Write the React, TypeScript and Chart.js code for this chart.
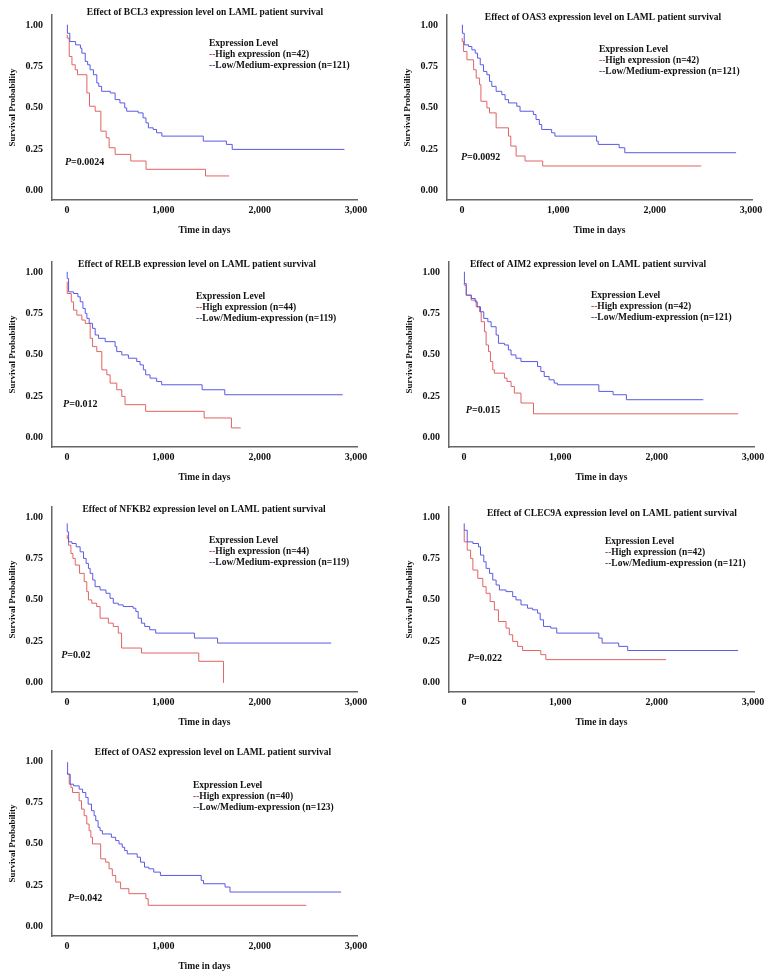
import React, { useEffect, useRef } from "react";
import { Chart, registerables } from "chart.js";

Chart.register(...registerables);

// ---------- data ----------
const genes = ["BCL3", "OAS3", "RELB", "AIM2", "NFKB2", "CLEC9A", "OAS2"];
const highN = [42, 42, 44, 42, 44, 42, 40];
const lowN = [121, 121, 119, 121, 119, 121, 123];
const pValues = ["0.0024", "0.0092", "0.012", "0.015", "0.02", "0.022", "0.042"];
const xTicks = [0, 1000, 2000, 3000];
const yTicks = [0, 0.25, 0.5, 0.75, 1];

const bcl3HighDays = [0, 3, 24, 52, 86, 110, 207, 234, 293, 352, 407, 438, 500, 662, 821, 1438, 1683];
const bcl3HighSurv = [0.94, 0.92, 0.81, 0.76, 0.73, 0.7, 0.59, 0.51, 0.48, 0.36, 0.32, 0.26, 0.22, 0.18, 0.13, 0.09, 0.09];
const bcl3LowDays = [0, 5, 30, 90, 140, 155, 190, 215, 240, 275, 310, 330, 360, 450, 500, 550, 600, 620, 740, 790, 820, 845, 895, 930, 985, 1415, 1655, 1715, 2880];
const bcl3LowSurv = [1, 0.95, 0.9, 0.88, 0.86, 0.83, 0.78, 0.76, 0.73, 0.7, 0.65, 0.63, 0.6, 0.59, 0.55, 0.53, 0.5, 0.48, 0.47, 0.44, 0.41, 0.38, 0.37, 0.35, 0.33, 0.3, 0.28, 0.25, 0.25];

const oas3HighDays = [0, 3, 17, 52, 121, 148, 183, 197, 259, 286, 355, 483, 507, 562, 655, 838, 2483];
const oas3HighSurv = [0.92, 0.9, 0.84, 0.79, 0.73, 0.68, 0.64, 0.54, 0.5, 0.47, 0.38, 0.33, 0.27, 0.21, 0.18, 0.15, 0.15];
const oas3LowDays = [0, 5, 24, 69, 103, 138, 162, 190, 224, 259, 286, 310, 355, 414, 448, 483, 569, 603, 741, 769, 803, 828, 931, 965, 1397, 1414, 1631, 1690, 2845];
const oas3LowSurv = [1, 0.95, 0.88, 0.87, 0.85, 0.83, 0.8, 0.76, 0.72, 0.7, 0.66, 0.63, 0.6, 0.58, 0.55, 0.53, 0.51, 0.48, 0.46, 0.43, 0.4, 0.37, 0.35, 0.33, 0.3, 0.28, 0.26, 0.23, 0.23];

const relbHighDays = [0, 3, 45, 69, 103, 155, 190, 241, 266, 310, 362, 414, 448, 517, 569, 603, 817, 1424, 1707, 1803];
const relbHighSurv = [0.94, 0.87, 0.82, 0.77, 0.74, 0.71, 0.69, 0.6, 0.55, 0.52, 0.41, 0.38, 0.33, 0.29, 0.25, 0.2, 0.16, 0.12, 0.06, 0.06];
const relbLowDays = [0, 3, 17, 69, 114, 138, 166, 190, 207, 231, 266, 293, 328, 397, 500, 517, 569, 638, 724, 759, 793, 817, 862, 931, 983, 1403, 1638, 2862];
const relbLowSurv = [1, 0.96, 0.88, 0.87, 0.85, 0.82, 0.78, 0.75, 0.72, 0.69, 0.66, 0.62, 0.6, 0.58, 0.55, 0.52, 0.5, 0.48, 0.46, 0.44, 0.41, 0.38, 0.36, 0.34, 0.32, 0.29, 0.26, 0.26];

const aim2HighDays = [0, 3, 24, 76, 127, 162, 179, 213, 230, 255, 275, 299, 316, 420, 447, 489, 523, 592, 722, 2845];
const aim2HighSurv = [0.93, 0.92, 0.86, 0.83, 0.79, 0.76, 0.7, 0.64, 0.56, 0.52, 0.46, 0.41, 0.39, 0.36, 0.34, 0.31, 0.27, 0.21, 0.145, 0.145];
const aim2LowDays = [0, 5, 24, 76, 117, 138, 172, 206, 248, 282, 334, 358, 420, 461, 489, 540, 592, 764, 798, 833, 884, 936, 970, 1400, 1548, 1686, 2484];
const aim2LowSurv = [1, 0.93, 0.86, 0.84, 0.82, 0.79, 0.76, 0.72, 0.7, 0.67, 0.62, 0.57, 0.56, 0.53, 0.5, 0.48, 0.46, 0.43, 0.4, 0.37, 0.35, 0.33, 0.32, 0.28, 0.26, 0.23, 0.23];

const nfkb2HighDays = [0, 3, 17, 41, 62, 86, 131, 179, 206, 223, 258, 309, 344, 430, 481, 533, 567, 773, 1368, 1625];
const nfkb2HighSurv = [0.89, 0.87, 0.83, 0.78, 0.75, 0.71, 0.66, 0.61, 0.55, 0.5, 0.48, 0.46, 0.39, 0.36, 0.34, 0.3, 0.21, 0.18, 0.13, 0.0];
const nfkb2LowDays = [0, 3, 17, 52, 96, 137, 172, 199, 223, 241, 268, 292, 344, 405, 447, 481, 533, 584, 687, 715, 739, 773, 807, 859, 921, 1323, 1563, 2742];
const nfkb2LowSurv = [0.96, 0.91, 0.85, 0.84, 0.82, 0.79, 0.75, 0.72, 0.69, 0.66, 0.62, 0.58, 0.56, 0.54, 0.51, 0.48, 0.47, 0.46, 0.45, 0.43, 0.39, 0.36, 0.34, 0.32, 0.3, 0.27, 0.24, 0.24];

const clec9aHighDays = [0, 3, 34, 69, 93, 144, 196, 230, 272, 316, 358, 437, 471, 506, 557, 609, 798, 850, 2098];
const clec9aHighSurv = [0.92, 0.85, 0.8, 0.75, 0.68, 0.63, 0.58, 0.54, 0.49, 0.44, 0.37, 0.33, 0.29, 0.25, 0.22, 0.195, 0.17, 0.14, 0.14];
const clec9aLowDays = [0, 3, 34, 93, 151, 172, 206, 230, 265, 299, 334, 368, 437, 506, 540, 592, 660, 712, 764, 791, 826, 901, 963, 1400, 1434, 1606, 1699, 2845];
const clec9aLowSurv = [0.96, 0.92, 0.85, 0.84, 0.82, 0.77, 0.73, 0.69, 0.66, 0.62, 0.59, 0.56, 0.55, 0.52, 0.5, 0.47, 0.45, 0.44, 0.42, 0.38, 0.34, 0.33, 0.3, 0.27, 0.24, 0.22, 0.195, 0.195];

const oas2HighDays = [0, 7, 24, 41, 58, 127, 151, 179, 206, 230, 248, 265, 350, 402, 437, 471, 506, 557, 643, 819, 843, 2484];
const oas2HighSurv = [0.93, 0.92, 0.86, 0.84, 0.81, 0.76, 0.71, 0.67, 0.62, 0.58, 0.54, 0.5, 0.41, 0.39, 0.35, 0.31, 0.27, 0.23, 0.2, 0.17, 0.13, 0.13];
const oas2LowDays = [0, 7, 34, 69, 127, 162, 196, 220, 255, 282, 299, 323, 344, 368, 461, 506, 540, 574, 599, 626, 729, 764, 805, 850, 901, 970, 1393, 1417, 1641, 1692, 2845];
const oas2LowSurv = [0.99, 0.92, 0.86, 0.85, 0.83, 0.81, 0.78, 0.74, 0.7, 0.67, 0.64, 0.6, 0.58, 0.56, 0.54, 0.52, 0.5, 0.48, 0.46, 0.44, 0.42, 0.39, 0.36, 0.35, 0.33, 0.31, 0.28, 0.26, 0.24, 0.21, 0.21];

const highDays = [bcl3HighDays, oas3HighDays, relbHighDays, aim2HighDays, nfkb2HighDays, clec9aHighDays, oas2HighDays];
const highSurv = [bcl3HighSurv, oas3HighSurv, relbHighSurv, aim2HighSurv, nfkb2HighSurv, clec9aHighSurv, oas2HighSurv];
const lowDays = [bcl3LowDays, oas3LowDays, relbLowDays, aim2LowDays, nfkb2LowDays, clec9aLowDays, oas2LowDays];
const lowSurv = [bcl3LowSurv, oas3LowSurv, relbLowSurv, aim2LowSurv, nfkb2LowSurv, clec9aLowSurv, oas2LowSurv];

// ---------- layout (positions / styles) ----------
const panelLeft = [0, 395, 0, 397, 0, 397, 0];
const panelTop = [0, 0, 247, 247, 492, 492, 736];
const titleDx = [153, 156, 145, 139, 152, 163, 161];
const titleDy = [-2, 3, 3, 3, 3, 7, 2];
const legendDx = [157, 152, 144, 142, 157, 156, 141];
const legendDy = [29, 35, 35, 34, 34, 35, 35];
const pPosDay = [-20, -10, -40, 20, -60, 40, 10];
const pPosSurv = [0.17, 0.2, 0.2, 0.165, 0.165, 0.147, 0.17];

const RED = "#e06464";
const BLUE = "#5a5ae6";
const SERIF = '"Liberation Serif", "Times New Roman", serif';
const CANVAS_W = 375;
const CANVAS_H = 245;

function KMPanel({ idx }: { idx: number }) {
  const ref = useRef<HTMLCanvasElement | null>(null);

  useEffect(() => {
    if (!ref.current) return;
    const toPts = (d: number[], s: number[]) => d.map((x, i) => ({ x, y: s[i] }));

    const textPlugin = {
      id: "kmText" + idx,
      afterDraw(chart: any) {
        const { ctx, chartArea: a, scales } = chart;
        ctx.save();
        ctx.textBaseline = "middle";
        ctx.fillStyle = "#111";
        ctx.font = `bold 9.5px ${SERIF}`;
        ctx.textAlign = "center";
        ctx.fillText(
          `Effect of ${genes[idx]} expression level on LAML patient survival`,
          a.left + titleDx[idx],
          a.top + titleDy[idx]
        );
        ctx.textAlign = "left";
        const lx = a.left + legendDx[idx];
        const ly = a.top + legendDy[idx];
        ctx.fillText("Expression Level", lx, ly);
        const dashW = ctx.measureText("--").width;
        ctx.fillStyle = "#a04848";
        ctx.fillText("--", lx, ly + 11);
        ctx.fillStyle = "#111";
        ctx.fillText(`High expression (n=${highN[idx]})`, lx + dashW, ly + 11);
        ctx.fillStyle = "#48487a";
        ctx.fillText("--", lx, ly + 22);
        ctx.fillStyle = "#111";
        ctx.fillText(`Low/Medium-expression (n=${lowN[idx]})`, lx + dashW, ly + 22);

        const px = scales.x.getPixelForValue(pPosDay[idx]);
        const py = scales.y.getPixelForValue(pPosSurv[idx]);
        ctx.font = `italic bold 10px ${SERIF}`;
        ctx.fillText("P", px, py);
        const pw = ctx.measureText("P").width;
        ctx.font = `bold 10px ${SERIF}`;
        ctx.fillText(`=${pValues[idx]}`, px + pw, py);
        ctx.restore();
      },
    };

    const chart = new Chart(ref.current, {
      type: "line",
      data: {
        datasets: [
          {
            label: "Low/Medium-expression",
            data: toPts(lowDays[idx], lowSurv[idx]),
            borderColor: BLUE,
            borderWidth: 1,
            pointRadius: 0,
            stepped: "before",
            fill: false,
          },
          {
            label: "High expression",
            data: toPts(highDays[idx], highSurv[idx]),
            borderColor: RED,
            borderWidth: 1,
            pointRadius: 0,
            stepped: "before",
            fill: false,
          },
        ],
      },
      options: {
        animation: false,
        responsive: false,
        maintainAspectRatio: false,
        devicePixelRatio: 1,
        layout: { padding: { left: 5, top: 12, right: 18, bottom: 0 } },
        plugins: {
          legend: { display: false },
          title: { display: false },
          tooltip: { enabled: false },
        },
        scales: {
          x: {
            type: "linear",
            min: -155,
            max: 3010,
            afterBuildTicks: (s: any) => {
              s.ticks = xTicks.map((v) => ({ value: v }));
            },
            afterFit: (s: any) => {
              s.height = 45;
            },
            grid: { display: false, drawTicks: false },
            border: { display: true, color: "#666", width: 1.5 },
            ticks: {
              autoSkip: false,
              maxRotation: 0,
              padding: 4,
              color: "#111",
              font: { family: SERIF, size: 10, weight: "bold" },
              callback: (v: any) => Number(v).toLocaleString("en-US"),
            },
            title: {
              display: true,
              text: "Time in days",
              color: "#111",
              font: { family: SERIF, size: 9.5, weight: "bold" },
              padding: { top: 0, bottom: 9 },
            },
          },
          y: {
            type: "linear",
            min: -0.055,
            max: 1.06,
            afterBuildTicks: (s: any) => {
              s.ticks = yTicks.map((v) => ({ value: v }));
            },
            afterFit: (s: any) => {
              s.width = 47;
            },
            grid: { display: false, drawTicks: false },
            border: { display: true, color: "#666", width: 1.5 },
            ticks: {
              padding: 9,
              color: "#111",
              font: { family: SERIF, size: 10, weight: "bold" },
              callback: (v: any) => Number(v).toFixed(2),
            },
            title: {
              display: true,
              text: "Survival Probability",
              color: "#111",
              font: { family: SERIF, size: 9, weight: "bold" },
              padding: { top: 2, bottom: 0 },
            },
          },
        },
      } as any,
      plugins: [textPlugin],
    });
    return () => chart.destroy();
  }, [idx]);

  return (
    <canvas
      ref={ref}
      width={CANVAS_W}
      height={CANVAS_H}
      style={{
        position: "absolute",
        left: panelLeft[idx],
        top: panelTop[idx],
        width: CANVAS_W,
        height: CANVAS_H,
      }}
    />
  );
}

export default function App() {
  return (
    <div
      style={{
        position: "absolute",
        left: 0,
        top: 0,
        width: 775,
        height: 980,
        overflow: "hidden",
        background: "#fff",
      }}
    >
      {genes.map((g, i) => (
        <KMPanel key={g} idx={i} />
      ))}
    </div>
  );
}
